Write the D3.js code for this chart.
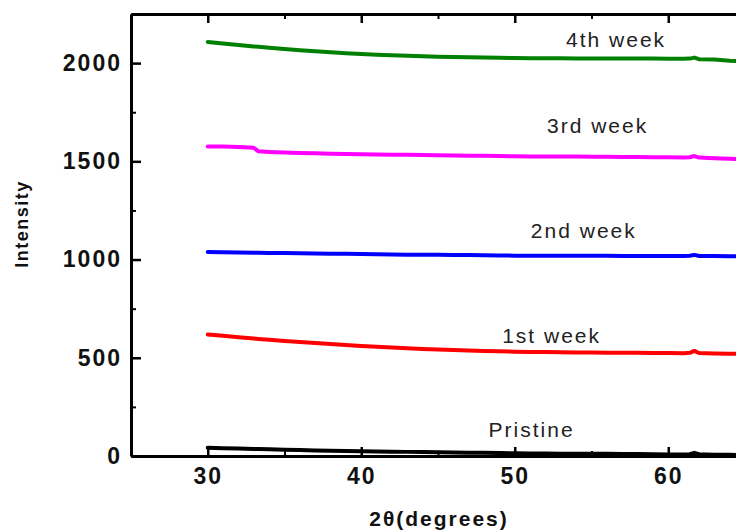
<!DOCTYPE html>
<html>
<head>
<meta charset="utf-8">
<script src="https://cdn.jsdelivr.net/npm/d3@7"></script>
<style>
  html, body { margin: 0; padding: 0; background: #fff; }
  svg { display: block; }
</style>
</head>
<body>
<div id="chart"></div>
<script>
// 2θ sampling grid (degrees)
const twoTheta = [30, 31, 32, 33, 33.3, 34, 35, 36, 37, 38, 39, 40, 41, 42, 43, 44, 45, 46, 47, 48, 49, 50,
  51, 52, 53, 54, 55, 56, 57, 58, 59, 60, 61, 61.4, 61.7, 62, 63, 64, 65, 66];

// Intensity of each sample, one array per ageing stage
const pristine = [42, 40, 38, 36, 36, 34, 32, 30, 28, 27, 25, 24, 23, 22, 21, 20, 19, 18, 17, 16, 15, 14,
  13, 13, 12, 12, 11, 11, 10, 10, 9, 8, 8, 9, 16, 9, 7, 6, 5, 5];
const week1 = [618, 612, 605, 598, 596, 592, 586, 580, 575, 570, 565, 560, 556, 552, 548, 545, 542, 539, 537, 535, 533, 531,
  530, 529, 528, 527, 527, 526, 525, 525, 524, 524, 523, 525, 535, 524, 522, 521, 520, 520];
const week2 = [1038, 1037, 1036, 1035, 1035, 1034, 1033, 1032, 1031, 1030, 1029, 1028, 1027, 1026, 1025, 1025, 1024, 1023, 1023, 1022, 1021, 1020,
  1020, 1020, 1019, 1019, 1019, 1019, 1018, 1018, 1018, 1018, 1018, 1019, 1024, 1018, 1018, 1017, 1017, 1017];
const week3 = [1576, 1575, 1573, 1569, 1551, 1548, 1545, 1543, 1541, 1539, 1537, 1536, 1535, 1534, 1533, 1532, 1531, 1530, 1529, 1528, 1527, 1526,
  1525, 1525, 1524, 1524, 1523, 1523, 1522, 1522, 1521, 1521, 1520, 1521, 1527, 1519, 1516, 1513, 1511, 1510];
const week4 = [2108, 2100, 2092, 2085, 2083, 2078, 2072, 2066, 2060, 2055, 2050, 2046, 2043, 2040, 2037, 2035, 2033, 2031, 2030, 2029, 2027, 2026,
  2025, 2025, 2025, 2024, 2024, 2024, 2023, 2023, 2023, 2022, 2022, 2023, 2028, 2020, 2018, 2012, 2008, 2005];

const seriesNames = ["Pristine", "1st week", "2nd week", "3rd week", "4th week"];
const seriesValues = [pristine, week1, week2, week3, week4];
const seriesColors = ["#000000", "#ff0000", "#0000ff", "#ff00ff", "#008000"];

// Where each stage's name is written (2θ centre, intensity of baseline)
const labelTheta = [51.1, 52.4, 54.5, 55.4, 56.6];
const labelIntensity = [97, 575, 1112, 1645, 2083];

const xTicks = [30, 40, 50, 60];
const xMinorTicks = [25, 35, 45, 55, 65];
const yTicks = [0, 500, 1000, 1500, 2000];
const yMinorTicks = [250, 750, 1250, 1750, 2250];

const W = 736, H = 531;
const plotLeft = 131, plotTop = 14, plotBottom = 456;

const svg = d3.select("#chart").append("svg")
  .attr("width", W).attr("height", H);

const x = d3.scaleLinear().domain([25, 70]).range([plotLeft, plotLeft + 45 * 15.35]);
const y = d3.scaleLinear().domain([0, 2250]).range([plotBottom, plotTop]);

const axisStroke = 3;
function styleAxis(g) {
  g.select(".domain").attr("stroke", "#000").attr("stroke-width", axisStroke);
  g.selectAll(".tick line").attr("stroke", "#000").attr("stroke-width", 2.5);
}
function styleMinor(g) {
  g.select(".domain").remove();
  g.selectAll(".tick line").attr("stroke", "#000").attr("stroke-width", 2);
}

// Bottom axis, ticks pointing inward
const xAxisG = svg.append("g").attr("transform", `translate(0,${plotBottom})`)
  .call(d3.axisBottom(x).tickValues(xTicks).tickFormat(d3.format("d"))
    .tickSizeInner(-9).tickSizeOuter(0).tickPadding(20));
styleAxis(xAxisG);
xAxisG.selectAll(".tick text")
  .attr("font-family", "Liberation Sans, Arial, sans-serif")
  .attr("font-weight", "bold").attr("font-size", 23).attr("letter-spacing", 2)
  .attr("fill", "#111").attr("dy", "0.71em").attr("y", 12);
svg.append("g").attr("transform", `translate(0,${plotBottom})`)
  .call(d3.axisBottom(x).tickValues(xMinorTicks).tickSizeInner(-5).tickSizeOuter(0).tickFormat(""))
  .call(styleMinor);

// Top frame with mirrored ticks
const topG = svg.append("g").attr("transform", `translate(0,${plotTop})`)
  .call(d3.axisTop(x).tickValues(xTicks).tickSizeInner(-9).tickSizeOuter(0).tickFormat(""));
styleAxis(topG);
svg.append("g").attr("transform", `translate(0,${plotTop})`)
  .call(d3.axisTop(x).tickValues(xMinorTicks).tickSizeInner(-5).tickSizeOuter(0).tickFormat(""))
  .call(styleMinor);

// Left axis
const yAxisG = svg.append("g").attr("transform", `translate(${plotLeft},0)`)
  .call(d3.axisLeft(y).tickValues(yTicks).tickFormat(d3.format("d"))
    .tickSizeInner(-10).tickSizeOuter(0).tickPadding(9));
styleAxis(yAxisG);
yAxisG.selectAll(".tick text")
  .attr("font-family", "Liberation Sans, Arial, sans-serif")
  .attr("font-weight", "bold").attr("font-size", 23).attr("letter-spacing", 2)
  .attr("fill", "#111");
svg.append("g").attr("transform", `translate(${plotLeft},0)`)
  .call(d3.axisLeft(y).tickValues(yMinorTicks).tickSizeInner(-5).tickSizeOuter(0).tickFormat(""))
  .call(styleMinor);

// Data traces
const line = d3.line()
  .x((d, i) => x(twoTheta[i]))
  .y(d => y(d));

svg.append("g").selectAll("path")
  .data(seriesValues)
  .join("path")
  .attr("d", d => line(d))
  .attr("fill", "none")
  .attr("stroke", (d, i) => seriesColors[i])
  .attr("stroke-width", 4)
  .attr("stroke-linejoin", "round")
  .attr("stroke-linecap", "round");

// Stage names
svg.append("g").selectAll("text")
  .data(seriesNames)
  .join("text")
  .attr("x", (d, i) => x(labelTheta[i]))
  .attr("y", (d, i) => y(labelIntensity[i]))
  .attr("text-anchor", "middle")
  .attr("font-family", "Liberation Sans, Arial, sans-serif")
  .attr("font-size", 21)
  .attr("letter-spacing", 2)
  .attr("fill", "#222")
  .text(d => d);

// Axis titles
svg.append("text")
  .attr("x", 439).attr("y", 526)
  .attr("text-anchor", "middle")
  .attr("font-family", "Liberation Sans, Arial, sans-serif")
  .attr("font-weight", "bold").attr("font-size", 21).attr("letter-spacing", 2)
  .attr("fill", "#111")
  .text("2θ(degrees)");

svg.append("text")
  .attr("transform", "translate(28,224) rotate(-90)")
  .attr("text-anchor", "middle")
  .attr("font-family", "Liberation Sans, Arial, sans-serif")
  .attr("font-weight", "bold").attr("font-size", 18).attr("letter-spacing", 1.5)
  .attr("fill", "#111")
  .text("Intensity");
</script>
</body>
</html>
